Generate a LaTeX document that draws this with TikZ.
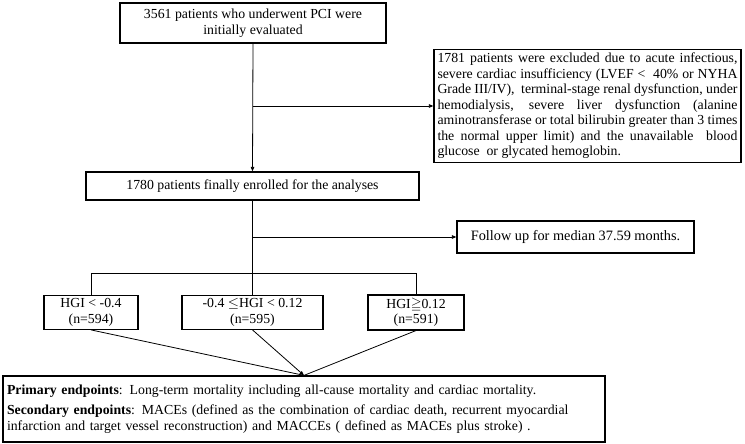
\documentclass[tikz,border=0pt]{standalone}
\usepackage{amsmath,amssymb}
\usepackage{fontspec}
\setmainfont{Liberation Serif}
\usepackage{tikz}
\usetikzlibrary{arrows.meta,positioning,calc}

\begin{document}
\begin{tikzpicture}[x=1pt, y=1pt, >={Triangle[length=4.5pt,width=3.5pt]},
  font=\fontsize{13.8}{15.5}\selectfont,
  box/.style={draw, line width=1.2pt, align=center, inner sep=3pt, minimum height=#1},
  box/.default=31pt,
  link/.style={line width=0.8pt}]
  \useasboundingbox (0,0) rectangle (745,-444);
  \node[box=40pt, minimum width=266pt] (init) at (253,-23) {3561 patients who underwent PCI were\\initially evaluated};
  \node[draw, line width=1.2pt, text width=300pt, align=justify, inner sep=3.5pt] (excl) at (587.5,-106)
    {1781 patients were excluded due to acute infectious,\linebreak
     severe cardiac insufficiency (LVEF < \ 40\% or NYHA\linebreak
     Grade III/IV), \ terminal-stage renal dysfunction, under\linebreak
     hemodialysis, severe liver dysfunction (alanine\linebreak
     aminotransferase or total bilirubin greater than 3 times\linebreak
     the normal upper limit) and the unavailable \ blood\linebreak
     glucose \ or glycated hemoglobin.};
  \node[box=28pt, minimum width=333pt] (enrol) at (252.5,-186) {1780 patients finally enrolled for the analyses};
  \node[box=32pt, minimum width=237pt, font=\fontsize{14.3}{15.5}\selectfont] (follow) at (575.5,-237) {Follow up for median 37.59 months.};
  \node[box, minimum width=94pt] (grpA) at (91,-312.5) {HGI < -0.4\\(n=594)};
  \node[box, minimum width=141pt] (grpB) at (252.5,-312.5) {-0.4 $\le$HGI < 0.12\\(n=595)};
  \node[box, minimum width=96pt] (grpC) at (416,-312.5) {HGI$\geqq$0.12\\(n=591)};
  \node[draw, line width=1.2pt, text width=594pt, align=left, inner sep=4pt, minimum height=66pt] (endp) at (304,-409)
    {\textbf{Primary endpoints}: Long-term mortality including all-cause mortality and cardiac mortality.\\[5pt]
     \textbf{Secondary endpoints}: MACEs (defined as the combination of cardiac death, recurrent myocardial\\
     infarction and target vessel reconstruction) and MACCEs ( defined as MACEs plus stroke) .};
  \coordinate (split) at (enrol.south |- grpA.north);
  \coordinate (splitA) at ($(split)+(0,22)$);
  % edges
  \draw[link,->] (init.south) -- (enrol.north);
  \draw[link,->] (init.south |- excl.west) -- (excl.west);
  \draw[link,->] (enrol.south |- follow.west) -- (follow.west);
  \draw[link] (enrol.south) -- (grpB.north);
  \draw[link] (grpA.north) |- (splitA) -| (grpC.north);
  \draw[link] (grpA.south) -- (endp.north);
  \draw[link] (grpC.south) -- (endp.north);
  \draw[link,->] (grpB.south) -- (endp.north);
\end{tikzpicture}
\end{document}
